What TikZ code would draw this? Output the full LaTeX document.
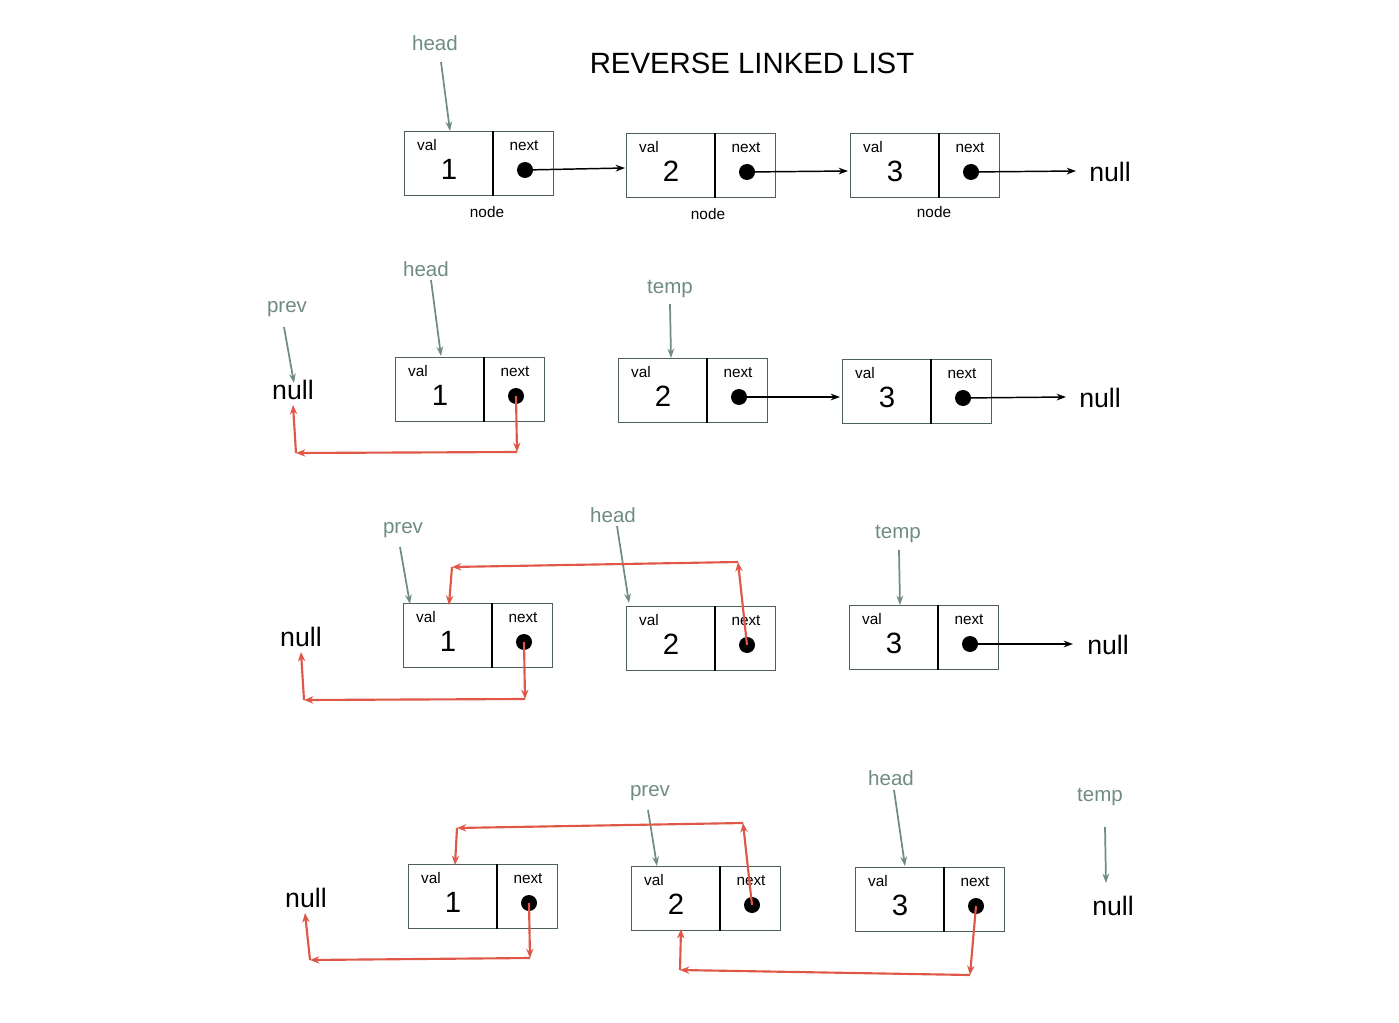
\documentclass[tikz,border=0pt]{standalone}
\usepackage{fontspec}
\setmainfont{Liberation Sans}
\usetikzlibrary{arrows.meta,calc}
\definecolor{ptr}{HTML}{6E8C85}
\definecolor{lnk}{HTML}{DE5747}
\definecolor{edge}{HTML}{4F5F5C}
\tikzset{
  valcell/.style={draw=edge,line width=0.8pt,minimum width=66pt,minimum height=48pt,inner sep=0pt,anchor=north west},
  nextcell/.style={draw=edge,line width=0.8pt,minimum width=45pt,minimum height=48pt,inner sep=0pt,anchor=north west},
  dotn/.style={circle,fill=black,minimum size=12pt,inner sep=0pt},
  smalltxt/.style={font=\fontsize{11.5}{13}\selectfont,inner sep=0pt},
  digit/.style={font=\fontsize{22}{26}\selectfont,inner sep=0pt},
  nulltxt/.style={font=\fontsize{20}{24}\selectfont,inner sep=2pt},
  ptrtxt/.style={font=\fontsize{15.4}{18}\selectfont,text=ptr,inner sep=0pt},
  blkarrow/.style={draw=black,line width=1.1pt,-{Stealth[length=7pt,width=5pt]}},
  ptrarrow/.style={draw=ptr,line width=1.3pt,-{Stealth[length=7pt,width=5pt]}},
  lnkarrow/.style={draw=lnk,line width=1.6pt,-{Stealth[length=7pt,width=5.5pt]}},
}
\newcommand\llbox[4]{%
  \node[valcell] (#1v) at (#2,#3) {};
  \node[nextcell] (#1n) at (#1v.north east) {};
  \draw[black,line width=1.1pt] (#1v.north east) -- (#1v.south east);
  \node[dotn] (#1d) at ($(#1v.north west)+(121,39)$) {};
  \node[smalltxt] (#1tv) at ($(#1v.north west)+(23,14)$) {val};
  \node[digit] (#1tg) at ($(#1v.north west)+(45,38)$) {#4};
  \node[smalltxt] (#1tn) at ($(#1v.north west)+(120,15)$) {next};
}
\begin{document}
\begin{tikzpicture}[x=0.75pt,y=-0.75pt]
\useasboundingbox (0,0) rectangle (1399,1023);

% ---------- Title
\node[font=\fontsize{22}{26}\selectfont,inner sep=0pt] (title) at (752,63) {REVERSE LINKED LIST};

% ---------- Row 1
\llbox{ra}{404}{131}{1}
\llbox{rb}{626}{133}{2}
\llbox{rc}{850}{133}{3}
\node[smalltxt] (nodea) at (487,212) {node};
\node[smalltxt] (nodeb) at (708,214) {node};
\node[smalltxt] (nodec) at (934,212) {node};
\node[nulltxt] (nullr1) at (1110,172) {null};
\node[ptrtxt] (headr1) at (435,43) {head};
\coordinate (headr1t) at (441,62);
\draw[ptrarrow] (headr1t) -- ($(rav.north west)+(46,0)$);
\draw[blkarrow] (rad.center) -- ($(rbv.north west)+(-1,35)$);
\draw[blkarrow] (rbd.center) -- ($(rcv.north west)+(-2,38)$);
\coordinate (nullr1t) at (1076,171);
\draw[blkarrow] (rcd.center) -- (nullr1t);

% ---------- Row 2
\llbox{sa}{395}{357}{1}
\llbox{sb}{618}{358}{2}
\llbox{sc}{842}{359}{3}
\node[nulltxt] (nulls1) at (293,390) {null};
\node[nulltxt] (nulls2) at (1100,398) {null};
\node[ptrtxt] (heads) at (426,269) {head};
\node[ptrtxt] (prevs) at (287,309) {prev};
\node[ptrtxt] (temps) at (670,289) {temp};
\coordinate (headst) at (431,280);
\coordinate (prevst) at (284,327);
\coordinate (prevsh) at (294,383);
\coordinate (tempst) at (670,304);
\draw[ptrarrow] (headst) -- ($(sav.north west)+(46,-1)$);
\draw[ptrarrow] (prevst) -- (prevsh);
\draw[ptrarrow] (tempst) -- ($(sbv.north west)+(53,0)$);
\draw[blkarrow] (sbd.center) -- ($(scv.north west)+(-2,38)$);
\coordinate (nulls2t) at (1066,397);
\draw[blkarrow] (scd.center) -- (nulls2t);
\coordinate (sr1) at (517,452);
\coordinate (sr2) at (296,453);
\coordinate (sr3) at (293,405);
\draw[lnkarrow] (sad.center) -- (sr1);
\draw[lnkarrow] (sr1) -- (sr2);
\draw[lnkarrow] (sr2) -- (sr3);

% ---------- Row 3
\llbox{ta}{403}{603}{1}
\llbox{tb}{626}{606}{2}
\llbox{tc}{849}{605}{3}
\node[nulltxt] (nullt1) at (301,637) {null};
\node[nulltxt] (nullt2) at (1108,645) {null};
\node[ptrtxt] (prevt) at (403,530) {prev};
\node[ptrtxt] (headt) at (613,515) {head};
\node[ptrtxt] (tempt) at (898,534) {temp};
\coordinate (prevtt) at (400,547);
\coordinate (headtt) at (617,526);
\coordinate (temptt) at (899,550);
\draw[ptrarrow] (prevtt) -- ($(tav.north west)+(7,1)$);
\draw[ptrarrow] (headtt) -- ($(tbv.north west)+(3,-3)$);
\draw[ptrarrow] (temptt) -- ($(tcv.north west)+(51,0)$);
\coordinate (nullt2t) at (1073,644);
\draw[blkarrow] (tcd.center) -- (nullt2t);
\coordinate (tr1) at (525,699);
\coordinate (tr2) at (304,700);
\coordinate (tr3) at (301,652);
\draw[lnkarrow] (tad.center) -- (tr1);
\draw[lnkarrow] (tr1) -- (tr2);
\draw[lnkarrow] (tr2) -- (tr3);
\coordinate (tq1) at (738,562);
\coordinate (tq2) at (452,567);
\draw[lnkarrow] (tbd.center) -- (tq1);
\draw[lnkarrow] (tq1) -- (tq2);
\draw[lnkarrow] (tq2) -- ($(tav.north west)+(46,2)$);

% ---------- Row 4
\llbox{ua}{408}{864}{1}
\llbox{ub}{631}{866}{2}
\llbox{uc}{855}{867}{3}
\node[nulltxt] (nullu1) at (306,898) {null};
\node[nulltxt] (nullu2) at (1113,906) {null};
\node[ptrtxt] (prevu) at (650,793) {prev};
\node[ptrtxt] (headu) at (891,778) {head};
\node[ptrtxt] (tempu) at (1100,797) {temp};
\coordinate (prevut) at (648,810);
\coordinate (headut) at (894,790);
\coordinate (temput) at (1105,827);
\coordinate (tempuh) at (1106,883);
\draw[ptrarrow] (prevut) -- ($(ubv.north west)+(26,0)$);
\draw[ptrarrow] (headut) -- ($(ucv.north west)+(50,-1)$);
\draw[ptrarrow] (temput) -- (tempuh);
\coordinate (ur1) at (530,958);
\coordinate (ur2) at (310,960);
\coordinate (ur3) at (305,913);
\draw[lnkarrow] (uad.center) -- (ur1);
\draw[lnkarrow] (ur1) -- (ur2);
\draw[lnkarrow] (ur2) -- (ur3);
\coordinate (uq1) at (743,823);
\coordinate (uq2) at (457,828);
\draw[lnkarrow] (ubd.center) -- (uq1);
\draw[lnkarrow] (uq1) -- (uq2);
\draw[lnkarrow] (uq2) -- ($(uav.north west)+(47,1)$);
\coordinate (uw1) at (970,975);
\coordinate (uw2) at (680,970);
\draw[lnkarrow] (ucd.center) -- (uw1);
\draw[lnkarrow] (uw1) -- (uw2);
\draw[lnkarrow] (uw2) -- ($(ubv.south west)+(50,-2)$);
\end{tikzpicture}
\end{document}
